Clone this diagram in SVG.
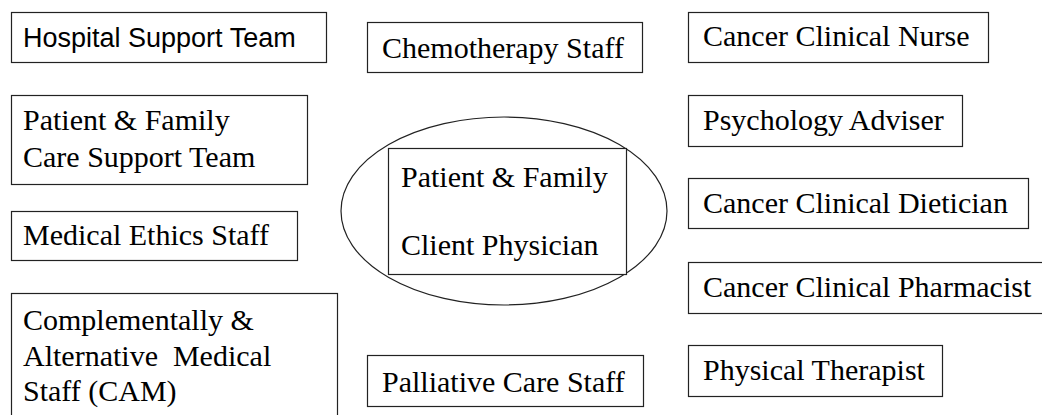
<svg xmlns="http://www.w3.org/2000/svg" width="1042" height="415" viewBox="0 0 1042 415">
<style>
.box{fill:#fff;stroke:#222;stroke-width:1.2}
.t{font-family:'Liberation Serif','Times New Roman',Times,'DejaVu Serif',serif;font-size:30px;fill:#000}
.s{font-family:'Liberation Sans',Arial,sans-serif;font-size:27px;fill:#000}
</style>
<rect width="1042" height="415" fill="#fff"/>
<g id="hospital-support-team"><rect class="box" x="11.5" y="12.5" width="315" height="50"/><text class="s" x="23" y="47">Hospital Support Team</text></g>
<g id="patient-family-care-support-team"><rect class="box" x="11.5" y="95.5" width="296" height="89"/><text class="t" x="23" y="130">Patient &amp; Family</text><text class="t" x="23" y="167">Care Support Team</text></g>
<g id="medical-ethics-staff"><rect class="box" x="11.5" y="211.5" width="286" height="49"/><text class="t" x="23" y="245">Medical Ethics Staff</text></g>
<g id="cam-staff"><rect class="box" x="11.5" y="293.5" width="326" height="130"/><text class="t" x="23" y="330">Complementally &amp;</text><text class="t" x="23" y="366" xml:space="preserve">Alternative  Medical</text><text class="t" x="23" y="401">Staff (CAM)</text></g>
<g id="chemotherapy-staff"><rect class="box" x="367.5" y="22.5" width="275" height="50"/><text class="t" x="382" y="58">Chemotherapy Staff</text></g>
<g id="patient-family-client-physician"><ellipse class="box" cx="504" cy="211" rx="163" ry="94"/><rect class="box" x="388.5" y="148.5" width="238" height="126"/><text class="t" x="401" y="187">Patient &amp; Family</text><text class="t" x="401" y="255">Client Physician</text></g>
<g id="palliative-care-staff"><rect class="box" x="367.5" y="355.5" width="276" height="51"/><text class="t" x="382" y="392">Palliative Care Staff</text></g>
<g id="cancer-clinical-nurse"><rect class="box" x="688.5" y="12.5" width="300" height="50"/><text class="t" x="703" y="46">Cancer Clinical Nurse</text></g>
<g id="psychology-adviser"><rect class="box" x="688.5" y="95.5" width="274" height="51"/><text class="t" x="703" y="130">Psychology Adviser</text></g>
<g id="cancer-clinical-dietician"><rect class="box" x="688.5" y="178.5" width="340" height="50"/><text class="t" x="703" y="213">Cancer Clinical Dietician</text></g>
<g id="cancer-clinical-pharmacist"><rect class="box" x="688.5" y="262.5" width="360" height="51"/><text class="t" x="703" y="297">Cancer Clinical Pharmacist</text></g>
<g id="physical-therapist"><rect class="box" x="688.5" y="345.5" width="254" height="51"/><text class="t" x="703" y="380">Physical Therapist</text></g>
<g id="connectors"></g>
</svg>
